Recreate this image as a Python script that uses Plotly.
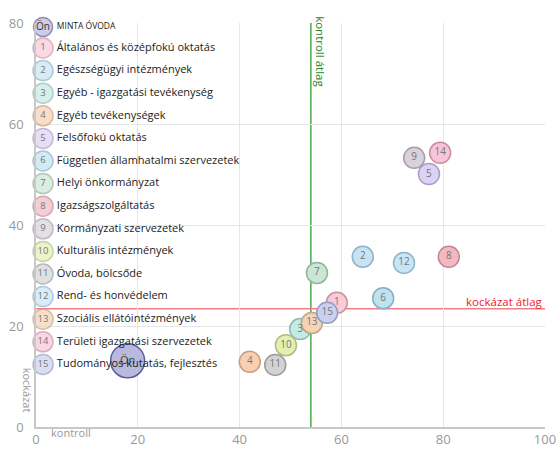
import plotly.graph_objects as go

# --- data ---
labels = ["1", "2", "3", "4", "5", "6", "7", "8", "9", "10", "11", "12", "13", "14", "15"]
names = ["Általános és középfokú oktatás", "Egészségügyi intézmények", "Egyéb - igazgatási tevékenység",
         "Egyéb tevékenységek", "Felsőfokú oktatás", "Független államhatalmi szervezetek",
         "Helyi önkormányzat", "Igazságszolgáltatás", "Kormányzati szervezetek",
         "Kulturális intézmények", "Óvoda, bölcsőde", "Rend- és honvédelem",
         "Szociális ellátóintézmények", "Területi igazgatási szervezetek", "Tudományos kutatás, fejlesztés"]
kontroll = [59.1, 64.2, 51.9, 42.0, 77.2, 68.2, 55.2, 81.1, 74.3, 49.1, 47.0, 72.3, 54.2, 79.4, 57.2]
kockazat = [24.6, 33.7, 19.4, 12.9, 50.1, 25.5, 30.5, 33.7, 53.3, 16.2, 12.3, 32.5, 20.6, 54.3, 22.6]
fills = ["#f9cad9", "#c7e4f5", "#c4ebe4", "#f8cfb2", "#ddd1f6", "#bfe2ef", "#c9e7d3", "#f2b9c2",
         "#d9d2da", "#e5efb2", "#d3d3d3", "#c7e6f5", "#f4d4b6", "#f9c4d7", "#c9d1ee"]
borders = ["#c9949f", "#8fb2c6", "#8fb8b0", "#c99e80", "#a99ec8", "#86afc0", "#92b39c", "#c08890",
           "#a59fa6", "#b2bc80", "#9c9c9c", "#90b3c6", "#c4a284", "#c890a4", "#959dc0"]
own_name = "MINTA ÓVODA"
own_label = "Ön"
own_kontroll = [18.0]
own_kockazat = [13.1]
kontroll_atlag = 54.0
kockazat_atlag = 23.4
x_ticks = [0, 20, 40, 60, 80, 100]
y_ticks = [0, 20, 40, 60, 80]

fig = go.Figure()

# own bubble
fig.add_trace(go.Scatter(
    x=own_kontroll, y=own_kockazat, mode="markers+text", text=[own_label],
    marker=dict(size=34, color="#b9b9dd", line=dict(color="#5c5c9c", width=1.5)),
    textfont=dict(size=11, color="#444", family="Open Sans"), hoverinfo="skip"))

# sector bubbles
fig.add_trace(go.Scatter(
    x=kontroll, y=kockazat, mode="markers+text", text=labels,
    marker=dict(size=21, color=fills, line=dict(color=borders, width=1.5)),
    textfont=dict(size=10, color="#777", family="Open Sans"), hovertext=names, hoverinfo="text"))

# legend on overlay axes
n = len(labels)
leg_x = [0.0138] * (n + 1)
leg_y = [(427 - (27 + (0 if i == 0 else 21 + (i - 1) * 22.6))) / 404 for i in range(n + 1)]
fig.add_trace(go.Scatter(
    x=leg_x, y=leg_y, xaxis="x2", yaxis="y2", mode="markers+text", cliponaxis=False,
    text=[own_label] + labels,
    marker=dict(size=[19] + [20] * n, color=["#b9b9dd"] + fills,
                line=dict(color=["#5c5c9c"] + borders, width=1.5)),
    textfont=dict(size=[10] + [9.5] * n, color=["#333"] + ["#777"] * n, family="Open Sans"),
    hoverinfo="skip"))
fig.add_trace(go.Scatter(
    x=[0.041] * (n + 1), y=leg_y, xaxis="x2", yaxis="y2", mode="text", cliponaxis=False,
    text=[own_name] + names, textposition="middle right",
    textfont=dict(size=[8.5] + [11] * n, color="#222", family="Open Sans"),
    hoverinfo="skip"))

# average lines
fig.add_shape(type="line", x0=kontroll_atlag, x1=kontroll_atlag, y0=0, y1=80, xref="x", yref="y",
              line=dict(color="#4aa84a", width=1.5), layer="below")
fig.add_shape(type="line", x0=0, x1=100, y0=kockazat_atlag, y1=kockazat_atlag, xref="x", yref="y",
              line=dict(color="#f47c86", width=1.5), layer="below")
fig.add_annotation(x=kontroll_atlag, y=80, xref="x", yref="y", text="kontroll átlag", textangle=90,
                   showarrow=False, xanchor="left", yanchor="top", xshift=0, yshift=9,
                   font=dict(size=11.5, color="#268526", family="Open Sans"))
fig.add_annotation(x=100, y=kockazat_atlag, xref="x", yref="y", text="kockázat átlag",
                   showarrow=False, xanchor="right", yanchor="bottom", yshift=-2,
                   font=dict(size=11.5, color="#ee2030", family="Open Sans"))

# axis titles
fig.add_annotation(x=2.6, y=0, xref="x", yref="y", text="kontroll", showarrow=False,
                   xanchor="left", yanchor="middle", yshift=-5,
                   font=dict(size=11, color="#999", family="Open Sans"))
fig.add_annotation(x=0, y=7.3, xref="x", yref="y", text="kockázat", showarrow=False, textangle=90,
                   xanchor="right", yanchor="middle", xshift=1,
                   font=dict(size=11, color="#999", family="Open Sans"))

fig.update_layout(
    width=559, height=450, margin=dict(l=36, r=14, t=23, b=23),
    paper_bgcolor="white", plot_bgcolor="white", showlegend=False,
    font=dict(family="Open Sans"),
    xaxis=dict(range=[0, 100], tickvals=x_ticks, showgrid=True, gridcolor="#e6e6e6",
               zeroline=False, showline=True, linecolor="#c8c8c8", linewidth=1.5,
               tickfont=dict(size=13, color="#999"), ticks="", automargin=False),
    yaxis=dict(range=[0, 80], tickvals=y_ticks, showgrid=True, gridcolor="#e6e6e6",
               zeroline=False, showline=True, linecolor="#c8c8c8", linewidth=1.5,
               tickfont=dict(size=13, color="#999"), ticks="", ticklabelstandoff=8,
               automargin=False),
    xaxis2=dict(range=[0, 1], overlaying="x", visible=False, automargin=False),
    yaxis2=dict(range=[0, 1], overlaying="y", visible=False, automargin=False),
)

fig.write_html("out.html", config={"displayModeBar": False},
               post_script="document.body.style.margin='0';document.body.style.overflow='hidden';")
